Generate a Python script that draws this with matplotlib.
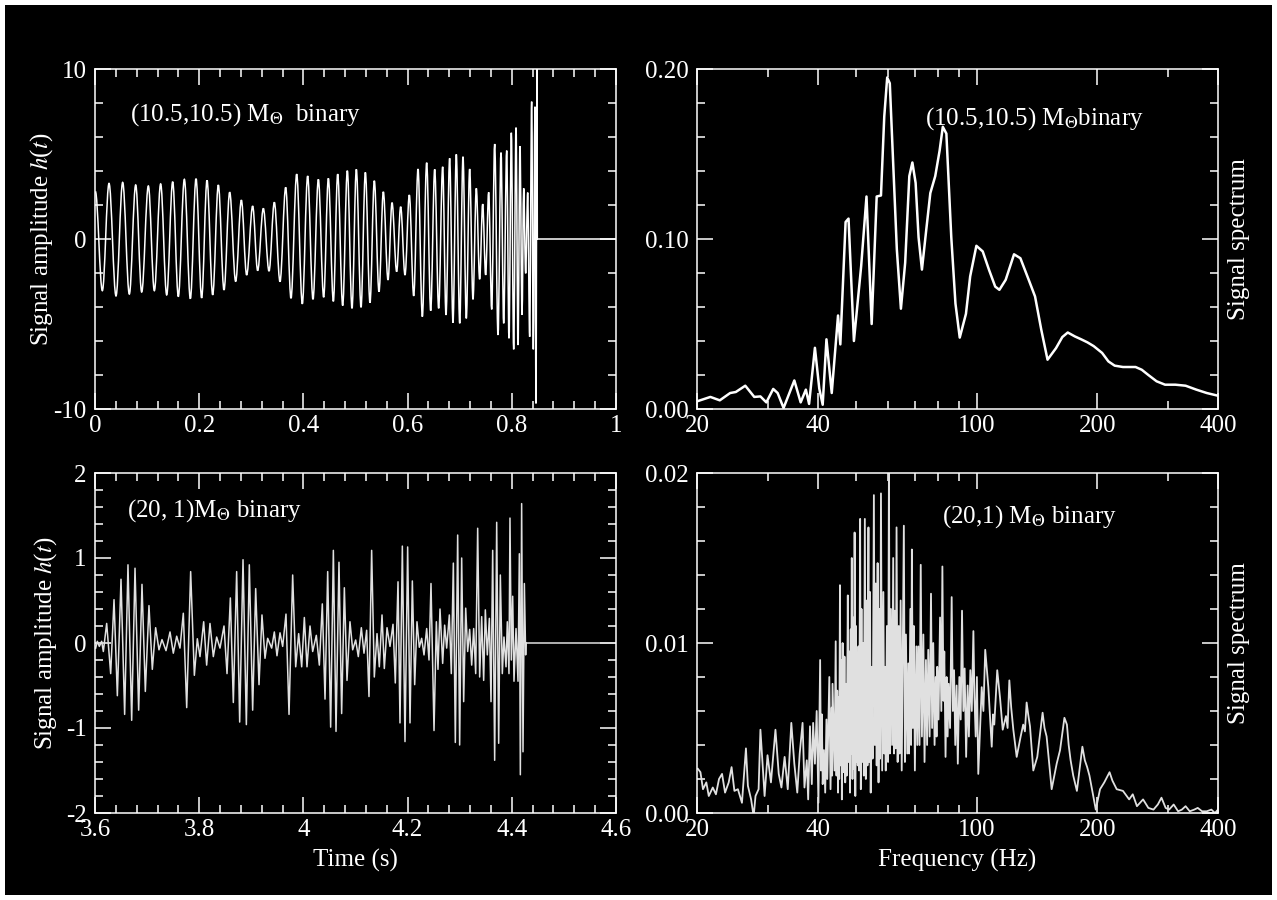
import matplotlib
matplotlib.use('Agg')
import matplotlib.pyplot as plt
from matplotlib.path import Path
from matplotlib.patches import PathPatch, Rectangle
from matplotlib.ticker import FixedLocator, FixedFormatter, MultipleLocator, NullFormatter

plt.rcParams['font.family'] = ['Liberation Serif', 'DejaVu Serif']
plt.rcParams['mathtext.fontset'] = 'stix'
plt.rcParams['font.size'] = 18

# (10.5,10.5) binary: waveform extrema
t_a = [0.0007, 0.0141, 0.0269, 0.0403, 0.0531, 0.0659, 0.0781, 0.0896, 0.1024, 0.1139,
       0.1260, 0.1376, 0.1491, 0.1599, 0.1715, 0.1830, 0.1939, 0.2047, 0.2150, 0.2259,
       0.2367, 0.2476, 0.2585, 0.2700, 0.2809, 0.2911, 0.3026, 0.3122, 0.3231, 0.3340,
       0.3442, 0.3551, 0.3660, 0.3762, 0.3871, 0.3979, 0.4082, 0.4184, 0.4287, 0.4389,
       0.4479, 0.4575, 0.4658, 0.4754, 0.4843, 0.4933, 0.5016, 0.5106, 0.5189, 0.5278,
       0.5361, 0.5451, 0.5534, 0.5624, 0.5701, 0.5790, 0.5867, 0.5950, 0.6033, 0.6117,
       0.6200, 0.6283, 0.6366, 0.6443, 0.6520, 0.6596, 0.6673,
       0.6737, 0.6807, 0.6871, 0.6935, 0.7000, 0.7063, 0.7127, 0.7191, 0.7255, 0.7319,
       0.7383, 0.7441, 0.7498, 0.7556, 0.7614, 0.7671, 0.7735, 0.7793, 0.7844, 0.7902,
       0.7946, 0.7991, 0.8036, 0.8081, 0.8119, 0.8157, 0.8196, 0.8228, 0.8266, 0.8305,
       0.8343, 0.8381, 0.8413, 0.8445, 0.8464, 0.8484, 0.8490, 1.0]
h_a = [2.8, -3.04, 3.27, -3.35, 3.33, -3.24, 3.18, -3.12, 3.12, -3.04,
       3.24, -3.29, 3.37, -3.39, 3.51, -3.51, 3.55, -3.47, 3.45, -3.29,
       3.18, -3.0, 2.75, -2.5, 2.29, -2.12, 1.94, -1.86, 1.8, -1.89,
       2.16, -2.51, 3.04, -3.49, 3.82, -3.82, 3.71, -3.55, 3.51, -3.43,
       3.57, -3.67, 3.82, -3.92, 4.02, -4.08, 4.1, -4.02, 3.92, -3.75,
       3.43, -3.1, 2.78, -2.41, 2.14, -1.92, 1.9, -2.12, 2.59, -3.35,
       4.12, -4.57, 4.49, -4.22, 4.1, -4.08, 4.25,
       -4.47, 4.75, -4.92, 4.98, -4.96, 4.84, -4.67, 4.12, -3.55, 2.98,
       -2.37, 2.06, -2.12, 2.75, -4.14, 5.59, -5.65, 5.08, -4.96, 5.2,
       -5.84, 6.25, -6.49, 6.55, -6.24, 5.47, -4.47, 2.98, -2.02, 2.73,
       -5.75, 8.08, -6.49, 7.78, -9.67, 10.0, 0.0, 0.0]

# (20,1) binary waveform
t_b = [3.6013, 3.6045, 3.6083, 3.6128, 3.6160, 3.6224, 3.6301, 3.6365, 3.6429, 3.6499,
       3.6569, 3.6633, 3.6704, 3.6768, 3.6838, 3.6902, 3.6966, 3.7036, 3.7100, 3.7164,
       3.7228, 3.7286, 3.7363, 3.7440, 3.7503, 3.7568, 3.7631, 3.7695, 3.7760, 3.7836,
       3.7907, 3.7964, 3.8015, 3.8086, 3.8143, 3.8207, 3.8271, 3.8335, 3.8399, 3.8476,
       3.8534, 3.8598, 3.8655, 3.8719, 3.8777, 3.8841, 3.8905, 3.8962, 3.9026, 3.9084,
       3.9148, 3.9205, 3.9263, 3.9314, 3.9391, 3.9442, 3.9493, 3.9551, 3.9602, 3.9666,
       3.9724, 3.9794, 3.9852, 3.9909, 3.9967, 4.0018, 4.0069, 4.0127, 4.0178, 4.0248,
       4.0306, 4.0363, 4.0415, 4.0466, 4.0523, 4.0575, 4.0626, 4.0683, 4.0734, 4.0786,
       4.0837, 4.0894, 4.0946, 4.1003, 4.1054, 4.1112, 4.1163, 4.1214, 4.1259, 4.1310,
       4.1361, 4.1413, 4.1457, 4.1509, 4.1553, 4.1605, 4.1662, 4.1720, 4.1764, 4.1816,
       4.1854, 4.1899, 4.1950, 4.2001, 4.2046, 4.2091, 4.2136, 4.2180, 4.2225, 4.2270,
       4.2315, 4.2366, 4.2411, 4.2449, 4.2507, 4.2552, 4.2583, 4.2622, 4.2673, 4.2711,
       4.2750, 4.2801, 4.2839, 4.2878, 4.2916, 4.2961, 4.2999, 4.3038, 4.3076, 4.3115,
       4.3153, 4.3191, 4.3230, 4.3268, 4.3307, 4.3345, 4.3383, 4.3422, 4.3460, 4.3492,
       4.3530, 4.3569, 4.3601, 4.3633, 4.3671, 4.3710, 4.3748, 4.3780, 4.3818, 4.3850,
       4.3889, 4.3914, 4.3946, 4.3965, 4.3991, 4.4017, 4.4042, 4.4081, 4.4119, 4.4145,
       4.4164, 4.4189, 4.4215, 4.4241, 4.4266, 4.4273, 4.6]
h_b = [-0.06, 0.02, -0.04, 0.02, -0.10, 0.23, -0.36, 0.51, -0.62, 0.75,
       -0.84, 0.92, -0.91, 0.88, -0.79, 0.69, -0.57, 0.44, -0.31, 0.18,
       -0.08, 0.04, -0.09, 0.13, -0.12, 0.08, -0.06, 0.35, -0.76, 0.84,
       -0.38, 0.05, -0.16, 0.25, -0.26, 0.23, -0.16, 0.07, -0.06, 0.20,
       -0.36, 0.53, -0.70, 0.84, -0.93, 0.98, -0.96, 0.92, -0.79, 0.64,
       -0.49, 0.33, -0.18, 0.055, -0.06, 0.13, -0.15, 0.12, -0.04, 0.34,
       -0.84, 0.80, -0.28, 0.11, -0.28, 0.30, -0.28, 0.20, -0.10, 0.09,
       -0.26, 0.46, -0.66, 0.84, -0.99, 1.09, -1.04, 0.95, -0.83, 0.65,
       -0.44, 0.25, -0.08, 0.035, -0.16, 0.18, -0.12, 0.15, -0.63, 1.09,
       -0.40, 0.11, -0.28, 0.33, -0.30, 0.18, -0.04, 0.22, -0.47, 0.72,
       -0.94, 1.14, -1.16, 1.13, -0.94, 0.73, -0.49, 0.25, -0.05, 0.055,
       -0.14, 0.17, -0.20, 0.70, -1.03, 0.25, -0.31, 0.40, -0.24, 0.21,
       -0.06, 0.33, -0.36, 0.94, -1.17, 1.27, -1.20, 1.00, -0.69, 0.41,
       -0.10, 0.16, -0.26, 0.17, -0.36, 1.35, -0.40, 0.31, -0.44, 0.39,
       -0.14, 0.29, -0.69, 1.09, -1.38, 1.42, -1.18, 0.80, -0.36, 0.07,
       -0.28, 0.25, -0.36, 1.47, -0.20, 0.55, -0.45, 0.17, -0.45, 1.05,
       -1.55, 1.64, -1.28, 0.70, -0.14, 0.0, 0.0]

# spectrum of the (10.5,10.5) signal
f_c = [20, 21.6, 22.8, 24.2, 25.0, 26.4, 27.8, 28.8, 29.8, 31.0,
       31.8, 32.9, 35.0, 36.3, 37.4, 38.1, 39.4, 40.4, 41.2, 42.1,
       43.4, 45.0, 45.6, 47.0, 47.8, 49.3, 51.4, 53.0, 54.6, 56.2,
       57.6, 58.7, 59.7, 60.6, 61.6, 63.1, 64.6, 66.2, 67.8, 69.0,
       70.3, 71.5, 72.9, 74.7, 76.5, 78.7, 80.7, 82.2, 83.9, 86.3,
       88.4, 90.6, 93.9, 96.2, 99.7, 103.4, 107.2, 111.1, 113.8, 118.0,
       123.8, 128.4, 134.7, 139.7, 144.8, 150.1, 157.6, 163.4, 168.6, 175.6,
       182.1, 188.8, 195.7, 205.4, 213, 220.8, 231.6, 249, 258, 268,
       281, 295, 313, 332, 353, 375, 400]
s_c = [0.0045, 0.0071, 0.0051, 0.0094, 0.0100, 0.0137, 0.0071, 0.0074, 0.0039, 0.0118,
       0.0094, 0.0006, 0.0168, 0.0039, 0.0114, 0.0030, 0.0360, 0.0120, 0.0025, 0.0410,
       0.0094, 0.0550, 0.0380, 0.1100, 0.1120, 0.0400, 0.0840, 0.1250, 0.0500, 0.1250,
       0.1256, 0.1720, 0.1950, 0.1916, 0.1520, 0.0940, 0.0590, 0.0860, 0.1370, 0.1450,
       0.1330, 0.1010, 0.0820, 0.1050, 0.1270, 0.1370, 0.1520, 0.1660, 0.1620, 0.1010,
       0.0620, 0.0420, 0.0560, 0.0780, 0.0960, 0.0927, 0.0819, 0.0720, 0.0701, 0.0760,
       0.0910, 0.0887, 0.0760, 0.0662, 0.0466, 0.0290, 0.0358, 0.0423, 0.0450, 0.0427,
       0.0410, 0.0392, 0.0370, 0.0330, 0.0280, 0.0255, 0.0247, 0.0247, 0.0231, 0.0200,
       0.0163, 0.0143, 0.0143, 0.0137, 0.0114, 0.0094, 0.0078]

# spectrum of the (20,1) signal, (frequency Hz, amplitude) in three bands
spec_d_low = [(20.1, 0.0026), (20.4, 0.0024), (20.7, 0.0014), (21.1, 0.0018), (21.4, 0.0010),
              (21.9, 0.0015), (22.3, 0.0011), (22.7, 0.0020), (23.1, 0.0023), (23.5, 0.0012),
              (24.0, 0.0018), (24.4, 0.0027), (24.8, 0.0013), (25.3, 0.0014), (25.9, 0.0006),
              (26.5, 0.0038), (26.8, 0.0016), (27.3, 0.0008), (27.7, -0.0002), (28.0, 0.0010),
              (28.5, 0.0014), (28.8, 0.0049), (29.5, 0.0010), (30.0, 0.0034), (30.6, 0.0018),
              (31.4, 0.0049), (32.0, 0.0023), (32.5, 0.0015), (33.1, 0.0033), (33.7, 0.0014),
              (34.4, 0.0053), (35.0, 0.0029), (35.6, 0.0012), (36.1, 0.0035), (36.7, 0.0053),
              (37.1, 0.0015), (37.6, 0.0031), (37.9, 0.0008), (38.3, 0.0051), (38.7, 0.0017),
              (39.0, 0.0053), (39.4, 0.0029), (39.8, 0.0060)]
spec_d_mid = [(40.2, 0.0006), (40.6, 0.0090), (40.8, 0.0025), (41.0, 0.0058), (41.2, 0.0017),
              (41.5, 0.0037), (41.8, 0.0012), (42.1, 0.0055), (42.3, 0.0020), (42.8, 0.0080),
              (43.1, 0.0014), (43.4, 0.0062), (43.5, 0.0022), (43.6, 0.0076), (44.1, 0.0025),
              (44.4, 0.0101), (44.6, 0.0022), (44.8, 0.0072), (45.0, 0.0012), (45.2, 0.0068),
              (45.3, 0.0020), (45.5, 0.0134), (45.7, 0.0028), (45.9, 0.0090), (46.0, 0.0008),
              (46.2, 0.0100), (46.5, 0.0024), (46.7, 0.0092), (46.9, 0.0018), (47.1, 0.0076),
              (47.3, 0.0022), (47.6, 0.0128), (47.8, 0.0030), (48.0, 0.0095), (48.2, 0.0012),
              (48.4, 0.0108), (48.5, 0.0035), (48.7, 0.0150), (48.9, 0.0020), (49.1, 0.0115),
              (49.3, 0.0026), (49.5, 0.0165), (49.7, 0.0010), (49.9, 0.0110), (50.1, 0.0030),
              (50.3, 0.0084), (50.4, 0.0028), (50.6, 0.0098), (50.8, 0.0025), (51.1, 0.0173),
              (51.3, 0.0014), (51.5, 0.0120), (51.7, 0.0030), (52.0, 0.0100), (52.2, 0.0022),
              (52.5, 0.0173), (52.8, 0.0020), (53.1, 0.0125), (53.3, 0.0028), (53.6, 0.0168),
              (53.8, 0.0030), (54.1, 0.0130), (54.3, 0.0012), (54.6, 0.0086), (54.9, 0.0032),
              (55.3, 0.0187), (55.6, 0.0040), (55.9, 0.0135), (56.2, 0.0028), (56.5, 0.0147),
              (56.8, 0.0018), (57.1, 0.0120), (57.3, 0.0032), (57.6, 0.0188), (58.0, 0.0025),
              (58.4, 0.0130), (58.7, 0.0035), (58.9, 0.0086), (59.2, 0.0025), (59.6, 0.0110),
              (60.0, 0.0030), (60.3, 0.0205), (60.6, 0.0035), (61.0, 0.0120), (61.4, 0.0040),
              (61.8, 0.0150), (62.1, 0.0035), (62.4, 0.0119), (62.7, 0.0038), (63.0, 0.0168),
              (63.4, 0.0030), (63.8, 0.0110), (64.1, 0.0035), (64.5, 0.0125), (64.9, 0.0025),
              (65.3, 0.0100), (65.7, 0.0169), (66.1, 0.0030), (66.5, 0.0105), (67.0, 0.0035),
              (67.4, 0.0088), (67.7, 0.0035), (68.2, 0.0120), (68.5, 0.0040), (68.8, 0.0155),
              (69.2, 0.0050), (69.6, 0.0110), (70.0, 0.0025), (70.6, 0.0098), (71.0, 0.0040),
              (71.4, 0.0098), (71.9, 0.0040), (72.4, 0.0146), (72.9, 0.0045), (73.5, 0.0105),
              (74.0, 0.0030), (74.6, 0.0090), (75.1, 0.0040), (75.6, 0.0096), (76.2, 0.0045),
              (76.8, 0.0129), (77.3, 0.0050), (77.8, 0.0100), (78.4, 0.0040), (78.9, 0.0080),
              (79.3, 0.0045), (79.6, 0.0086), (80.2, 0.0055), (80.9, 0.0115), (81.5, 0.0060),
              (82.0, 0.0145), (82.5, 0.0066), (82.9, 0.0095), (83.5, 0.0033), (84.0, 0.0080),
              (84.5, 0.0045), (85.0, 0.0076), (85.7, 0.0050), (86.5, 0.0127), (87.1, 0.0060),
              (87.7, 0.0084), (88.3, 0.0040), (89.0, 0.0075), (89.6, 0.0029), (90.4, 0.0080),
              (91.1, 0.0055), (91.8, 0.0119), (92.5, 0.0060), (93.2, 0.0085), (94.0, 0.0033),
              (94.8, 0.0075), (95.5, 0.0045), (96.3, 0.0084), (97.1, 0.0060), (98.0, 0.0107),
              (98.6, 0.0068), (99.3, 0.0045), (100.0, 0.0080), (100.8, 0.0023)]
spec_d_high = [(102.8, 0.0074), (103.8, 0.0060), (104.9, 0.0096), (106.8, 0.0074), (108.9, 0.0039),
               (109.7, 0.0058), (110.5, 0.0052), (112.4, 0.0084), (114.2, 0.0068), (116.0, 0.0049),
               (118.2, 0.0057), (119.3, 0.0050), (120.5, 0.0078), (121.8, 0.0062), (123.3, 0.0049),
               (125.7, 0.0033), (128.6, 0.0045), (130.5, 0.0052), (131.8, 0.0048), (133.1, 0.0065),
               (134.3, 0.0058), (135.7, 0.0051), (138.3, 0.0025), (141.5, 0.0033), (145.9, 0.0059),
               (147.5, 0.0050), (149.3, 0.0045), (153.7, 0.0014), (158.2, 0.0029), (161.3, 0.0037),
               (165.4, 0.0056), (167.8, 0.0052), (169.5, 0.0040), (171.4, 0.0031), (174.0, 0.0022),
               (177.7, 0.0013), (183.4, 0.0039), (186.0, 0.0031), (188.5, 0.0027), (191.0, 0.0022),
               (198.1, 0.0002), (203, 0.0014), (208, 0.0018), (214.4, 0.0024), (218, 0.0019),
               (223.4, 0.0014), (231.6, 0.0013), (240, 0.0008), (245, 0.0011), (251, 0.0004),
               (260, 0.0008), (268, 0.0003), (276, 0.0002), (283, 0.0005), (289, 0.0009),
               (296, 0.0003), (302, 0.0002), (310, 0.0005), (318, 0.0001), (325, 0.0002),
               (332, 0.0004), (340, 0.0001), (349, 0.0002), (356, 0.0003), (365, 0.0001),
               (375, 0.0001), (385, 0.0002), (393, 0.0000), (400, 0.0002)]

freq_ticks = [20, 40, 100, 200, 400]
freq_minor = [30, 50, 60, 70, 80, 90, 300]
ylab_time = 'Signal amplitude $h$($t$)'
ylab_spec = 'Signal spectrum'


def smooth_wave(x, y, k=0.36):
    # cubic segments with flat tangents at each extremum
    verts = [(x[0], y[0])]
    codes = [Path.MOVETO]
    for i in range(1, len(x)):
        d = x[i] - x[i - 1]
        verts += [(x[i - 1] + k * d, y[i - 1]), (x[i] - k * d, y[i]), (x[i], y[i])]
        codes += [Path.CURVE4] * 3
    return Path(verts, codes)


def style(ax):
    ax.set_facecolor('black')
    for s in ax.spines.values():
        s.set_color('white')
        s.set_linewidth(1.1)
    ax.tick_params(which='both', direction='in', top=True, right=True,
                   colors='white', width=1.1, labelsize=18)
    ax.tick_params(which='major', length=11.5)
    ax.tick_params(which='minor', length=6)
    ax.tick_params(axis='x', pad=4)
    ax.tick_params(axis='y', pad=6)


def freq_axis(ax):
    ax.set_xscale('log')
    ax.set_xlim(20, 400)
    ax.xaxis.set_major_locator(FixedLocator(freq_ticks))
    ax.xaxis.set_major_formatter(FixedFormatter([str(v) for v in freq_ticks]))
    ax.xaxis.set_minor_locator(FixedLocator(freq_minor))
    ax.xaxis.set_minor_formatter(NullFormatter())
    ax.yaxis.set_label_position('right')
    ax.set_ylabel(ylab_spec, color='white', fontsize=18)
    ax.yaxis.set_label_coords(1.0195, 0.5)


fig = plt.figure(figsize=(12.77, 9), dpi=100, facecolor='white')
fig.patches.append(Rectangle((5 / 1277, 5 / 900), 1 - 10 / 1277, 1 - 10 / 900,
                             transform=fig.transFigure, facecolor='black',
                             edgecolor='none', zorder=-10))

L1, L2, W = 95 / 1277, 697 / 1277, 521 / 1277
B1, B2, H = 491 / 900, 87 / 900, 340 / 900

# top left: waveform (10.5,10.5)
ax1 = fig.add_axes([L1, B1, W, H])
style(ax1)
ax1.add_patch(PathPatch(smooth_wave(t_a, h_a), fill=False, edgecolor='white', lw=1.1))
ax1.set_xlim(0, 1)
ax1.set_ylim(-10, 10)
ax1.set_xticks([0, 0.2, 0.4, 0.6, 0.8, 1.0], ['0', '0.2', '0.4', '0.6', '0.8', '1'])
ax1.set_yticks([-10, 0, 10], ['-10', '0', '10'])
ax1.xaxis.set_minor_locator(MultipleLocator(0.04))
ax1.yaxis.set_minor_locator(MultipleLocator(2))
ax1.set_ylabel(ylab_time, color='white', fontsize=18)
ax1.yaxis.set_label_coords(-0.077, 0.5)
ax1.text(0.067, 0.848, r'(10.5,10.5) M$_\Theta$  binary', transform=ax1.transAxes,
         color='white', fontsize=18, va='baseline')

# top right: spectrum (10.5,10.5)
ax2 = fig.add_axes([L2, B1, W, H])
style(ax2)
ax2.plot(f_c, s_c, color='white', lw=1.8)
freq_axis(ax2)
ax2.set_ylim(0, 0.2)
ax2.set_yticks([0, 0.1, 0.2], ['0.00', '0.10', '0.20'])
ax2.yaxis.set_minor_locator(MultipleLocator(0.02))
ax2.text(0.4376, 0.838, r'(10.5,10.5) M$_\Theta$binary', transform=ax2.transAxes,
         color='white', fontsize=18, va='baseline')

# bottom left: waveform (20,1)
ax3 = fig.add_axes([L1, B2, W, H])
style(ax3)
ax3.plot(t_b, h_b, color='#e0e0e0', lw=1.1)
ax3.set_xlim(3.6, 4.6)
ax3.set_ylim(-2, 2)
ax3.set_xticks([3.6, 3.8, 4.0, 4.2, 4.4, 4.6], ['3.6', '3.8', '4', '4.2', '4.4', '4.6'])
ax3.set_yticks([-2, -1, 0, 1, 2], ['-2', '-1', '0', '1', '2'])
ax3.xaxis.set_minor_locator(MultipleLocator(0.04))
ax3.yaxis.set_minor_locator(MultipleLocator(0.2))
ax3.set_ylabel(ylab_time, color='white', fontsize=18)
ax3.yaxis.set_label_coords(-0.069, 0.5)
ax3.set_xlabel('Time (s)', color='white', fontsize=18)
ax3.xaxis.set_label_coords(0.5, -0.106)
ax3.xaxis.label.set_va('top')
ax3.text(0.0614, 0.871, r'(20, 1)M$_\Theta$ binary', transform=ax3.transAxes,
         color='white', fontsize=18, va='baseline')

# bottom right: spectrum (20,1)
spec_d = spec_d_low + spec_d_mid + spec_d_high
f_d = [p[0] for p in spec_d]
s_d = [p[1] for p in spec_d]
ax4 = fig.add_axes([L2, B2, W, H])
style(ax4)
ax4.plot(f_d, s_d, color='#e0e0e0', lw=1.3)
freq_axis(ax4)
ax4.set_ylim(0, 0.02)
ax4.set_yticks([0, 0.01, 0.02], ['0.00', '0.01', '0.02'])
ax4.yaxis.set_minor_locator(MultipleLocator(0.002))
ax4.set_xlabel('Frequency (Hz)', color='white', fontsize=18)
ax4.xaxis.set_label_coords(0.5, -0.106)
ax4.xaxis.label.set_va('top')
ax4.text(0.471, 0.853, r'(20,1) M$_\Theta$ binary', transform=ax4.transAxes,
         color='white', fontsize=18, va='baseline')

fig.savefig('out.png', dpi=100, facecolor=fig.get_facecolor())
